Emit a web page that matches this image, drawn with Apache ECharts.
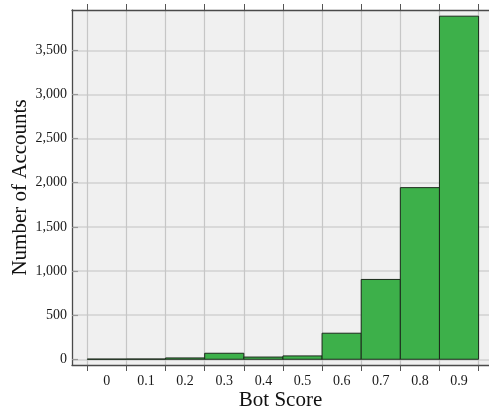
<!DOCTYPE html>
<html>
<head>
<meta charset="utf-8">
<script src="https://cdn.jsdelivr.net/npm/echarts@6/dist/echarts.min.js"></script>
<style>
  html, body { margin: 0; padding: 0; background: #fff; }
  #chart { width: 489px; height: 414px; }
</style>
</head>
<body>
<div id="chart"></div>
<script>
// bin centres and counts
var binCenters = [0, 0.1, 0.2, 0.3, 0.4, 0.5, 0.6, 0.7, 0.8, 0.9];
var counts = [2, 3, 15, 68, 25, 38, 295, 904, 1944, 3886];
var binEdges = [-0.05, 0.05, 0.15, 0.25, 0.35, 0.45, 0.55, 0.65, 0.75, 0.85, 0.95];
var yTicks = [0, 500, 1000, 1500, 2000, 2500, 3000, 3500];
var halfBin = 0.05;

var font = '"Liberation Serif", "DejaVu Serif", serif';

var chart = echarts.init(document.getElementById('chart'));

var barData = [];
for (var i = 0; i < binCenters.length; i++) {
  barData.push([binCenters[i], counts[i]]);
}

chart.setOption({
  animation: false,
  grid: {
    left: 72, right: 0, top: 10, bottom: 49,
    outerBoundsMode: 'none',
    containLabel: false,
    show: true,
    backgroundColor: '#f0f0f0',
    borderWidth: 0
  },
  xAxis: [
    {
      type: 'value',
      min: -0.0891,
      max: 0.9766,
      position: 'bottom',
      name: 'Bot Score',
      nameLocation: 'middle',
      nameGap: 25,
      nameMoveOverlap: false,
      nameTextStyle: { fontFamily: font, fontSize: 21, color: '#111' },
      axisLine: { show: true, onZero: false, lineStyle: { color: '#4a4a4a', width: 1.3 } },
      axisTick: { show: true, inside: false, length: 6, customValues: binEdges,
        lineStyle: { color: '#555', width: 1 } },
      axisLabel: {
        customValues: binCenters,
        margin: 9,
        fontFamily: font, fontSize: 14, color: '#1a1a1a',
        formatter: function (v) { return String(+v.toFixed(1)); }
      },
      splitLine: { show: true, lineStyle: { color: '#c6c6c6', width: 1.2 } }
    },
    {
      type: 'value',
      min: -0.0891,
      max: 0.9766,
      position: 'top',
      axisLine: { show: true, onZero: false, lineStyle: { color: '#4a4a4a', width: 1.3 } },
      axisTick: { show: true, inside: false, length: 6, customValues: binEdges,
        lineStyle: { color: '#555', width: 1 } },
      axisLabel: { show: false },
      splitLine: { show: false }
    }
  ],
  yAxis: {
    type: 'value',
    min: -65,
    max: 3956,
    name: 'Number of Accounts',
    nameLocation: 'middle',
    nameGap: 41,
    nameMoveOverlap: false,
    nameTextStyle: { fontFamily: font, fontSize: 21, color: '#111' },
    axisLine: { show: true, onZero: false, lineStyle: { color: '#4a4a4a', width: 1.3 } },
    axisTick: { show: true, inside: true, length: 6, customValues: yTicks,
      lineStyle: { color: '#999', width: 1.2 } },
    axisLabel: {
      customValues: yTicks,
      margin: 5,
      fontFamily: font, fontSize: 14, color: '#1a1a1a',
      formatter: function (v) { return Math.round(v).toLocaleString('en-US'); }
    },
    splitLine: { show: true, lineStyle: { color: '#d2d2d2', width: 1.5 } }
  },
  series: [{
    type: 'custom',
    xAxisIndex: 0,
    data: barData,
    renderItem: function (params, api) {
      var x = api.value(0);
      var v = api.value(1);
      var p0 = api.coord([x - halfBin, v]);
      var p1 = api.coord([x + halfBin, 0]);
      return {
        type: 'rect',
        shape: { x: p0[0], y: p0[1], width: p1[0] - p0[0], height: p1[1] - p0[1] },
        style: { fill: '#3db04a', stroke: '#1b2a1b', lineWidth: 1 }
      };
    }
  }]
});
</script>
</body>
</html>
